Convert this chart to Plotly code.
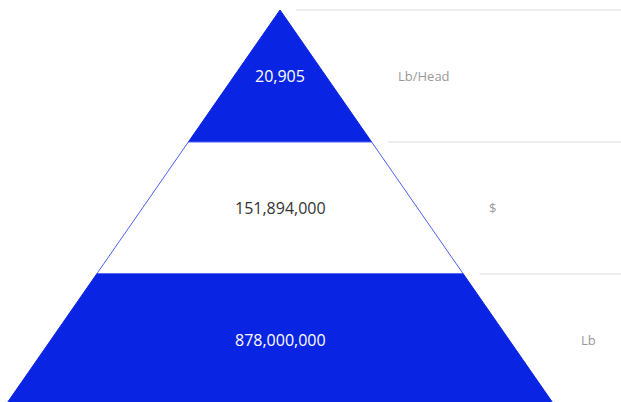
import plotly.graph_objects as go

# pyramid layers, top to bottom
values = ['20,905', '151,894,000', '878,000,000']
units = ['Lb/Head', '$', 'Lb']
fills = ['#0a24e3', '#ffffff', '#0a24e3']
text_colors = ['#ffffff', '#333333', '#ffffff']

apex_x, apex_y = 280, 10
layer_h = 132
slope = 275 / 396.0


def half_width(y):
    return (y - apex_y) * slope


fig = go.Figure()

for i, (val, unit) in enumerate(zip(values, units)):
    y0 = apex_y + i * layer_h
    y1 = y0 + layer_h
    w0, w1 = half_width(y0), half_width(y1)
    xs = [apex_x - w0, apex_x + w0, apex_x + w1, apex_x - w1, apex_x - w0]
    ys = [y0, y0, y1, y1, y0]
    line_color = '#4b62f5' if fills[i] == '#ffffff' else fills[i]
    fig.add_trace(go.Scatter(
        x=xs, y=ys, mode='lines', fill='toself',
        fillcolor=fills[i], line=dict(color=line_color, width=1),
        hoverinfo='skip', showlegend=False))

    # grid line on the right at the top of the layer
    fig.add_shape(type='line', x0=apex_x + w0 + 16, x1=621, y0=y0, y1=y0,
                  line=dict(color='#dddddd', width=1), layer='below')

    fig.add_annotation(x=apex_x, y=(y0 + y1) / 2, text=val, showarrow=False,
                       font=dict(color=text_colors[i], size=16, family='Open Sans'))
    fig.add_annotation(x=apex_x + w1 + 24, y=(y0 + y1) / 2, text=unit,
                       showarrow=False, xanchor='left',
                       font=dict(color='#999999', size=13, family='Open Sans'))

fig.update_layout(
    width=621, height=402,
    margin=dict(l=0, r=0, t=0, b=0),
    paper_bgcolor='white', plot_bgcolor='white',
    xaxis=dict(range=[0, 621], visible=False, fixedrange=True),
    yaxis=dict(range=[402, 0], visible=False, fixedrange=True),
)

# drop the default body margin so the figure fills the window exactly
fig.write_html("out.html", config={'displayModeBar': False},
               post_script="document.body.style.margin='0';")
